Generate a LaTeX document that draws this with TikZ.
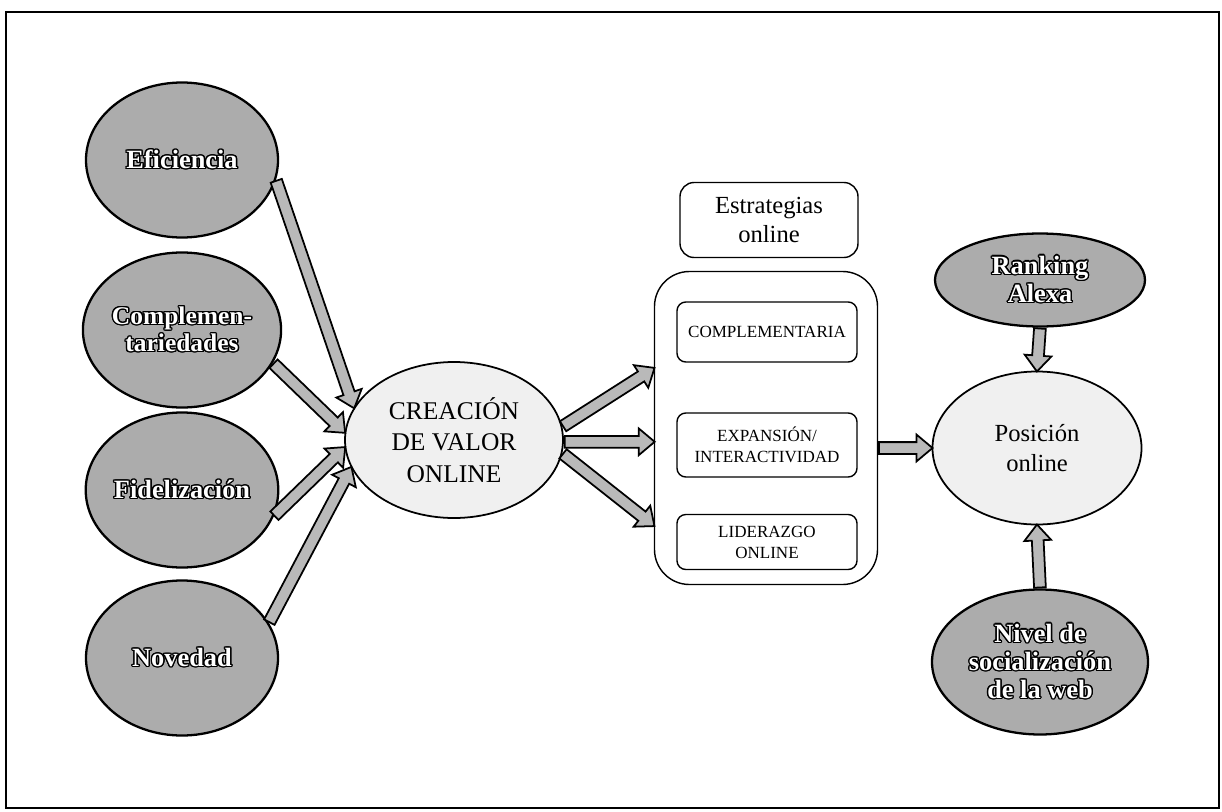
\documentclass[tikz,border=0pt]{standalone}
\usepackage{fontspec}
\setmainfont{Liberation Serif}
\usepackage{contour}
\contourlength{0.75pt}
\usetikzlibrary{shapes.geometric,shapes.arrows,calc}

\begin{document}
\begin{tikzpicture}[x=0.2mm,y=-0.2mm,
   oscuro/.style={ellipse,draw,line width=1.3pt,fill=gray!65,text=white,inner sep=0pt,
      minimum width=38.4mm,minimum height=31mm,align=center,
      font=\fontsize{15}{16}\selectfont\bfseries},
   claro/.style={ellipse,draw,line width=1pt,fill=gray!12,inner sep=0pt,align=center,
      font=\fontsize{14}{17}\selectfont},
   caja/.style={draw,thick,rounded corners=5pt,minimum width=36mm,minimum height=12mm,
      align=center,font=\fontsize{9.7}{12}\selectfont},
   flecha/.style={to path={let \p1=($(\tikztotarget)-(\tikztostart)$),
      \n1={veclen(\x1,\y1)},\n2={atan2(\y1,\x1)} in
      node[single arrow,draw,line width=1pt,fill=gray!55,inner xsep=0pt,inner ysep=1mm,
         single arrow head extend=1.5mm,single arrow tip angle=80,
         minimum height=\n1,anchor=tail,rotate=\n2] at (\tikztostart) {}}}]
\useasboundingbox (0,0) rectangle (1222,812);
\draw[thick] (6,12) rectangle (1219,808);

\node[oscuro] (efic) at (182,160) {\contour{black}{Eficiencia}};
\node[oscuro,font=\fontsize{14.5}{15.5}\selectfont\bfseries] (compl) at (182,330)
   {\contour{black}{Complemen-}\\\contour{black}{tariedades}};
\node[oscuro] (fidel) at (182,490) {\contour{black}{Fidelización}};
\node[oscuro] (noved) at (182,658) {\contour{black}{Novedad}};

\node[claro,minimum width=43.6mm,minimum height=31.2mm,font=\fontsize{14.5}{18}\selectfont]
   (creac) at (454,440) {CREACIÓN\\DE VALOR\\ONLINE};

\node[draw,thick,rounded corners=8pt,minimum width=35.6mm,minimum height=15mm,align=center,
   font=\fontsize{14}{17}\selectfont] (titulo) at (769,220) {Estrategias\\online};
\node[draw,thick,rounded corners=7mm,minimum width=44.6mm,minimum height=62.6mm] (estr) at (766,428) {};
\node[caja] (comp) at (767,332) {COMPLEMENTARIA};
\node[caja,minimum height=12.8mm] (expa) at (767,445) {EXPANSIÓN/\\INTERACTIVIDAD};
\node[caja,minimum height=11mm] (lide) at (767,542) {LIDERAZGO\\ONLINE};

\node[claro,minimum width=41.8mm,minimum height=30.6mm] (pos) at (1037,448) {Posición\\online};
\node[oscuro,minimum width=42mm,minimum height=18.6mm] (rank) at (1040,280)
   {\contour{black}{Ranking}\\\contour{black}{Alexa}};
\node[oscuro,minimum width=43.2mm,minimum height=29mm] (nivel) at (1040,662)
   {\contour{black}{Nivel de}\\\contour{black}{socialización}\\\contour{black}{de la web}};

\path (efic.-12) to[flecha] (creac.162);
\path (compl.-20) to[flecha] (creac.176);
\path (fidel.-16) to[flecha] (creac.184);
\path (noved.22) to[flecha] (creac.195);
\path (creac.7) to[flecha] (estr.152);
\path (creac.-1) to[flecha] (estr.187);
\path (creac.-7) to[flecha] (estr.221);
\path (pos.west -| estr.east) to[flecha] (pos.west);
\path (rank.south) to[flecha] (pos.north);
\path (nivel.north) to[flecha] (pos.south);
\end{tikzpicture}
\end{document}
